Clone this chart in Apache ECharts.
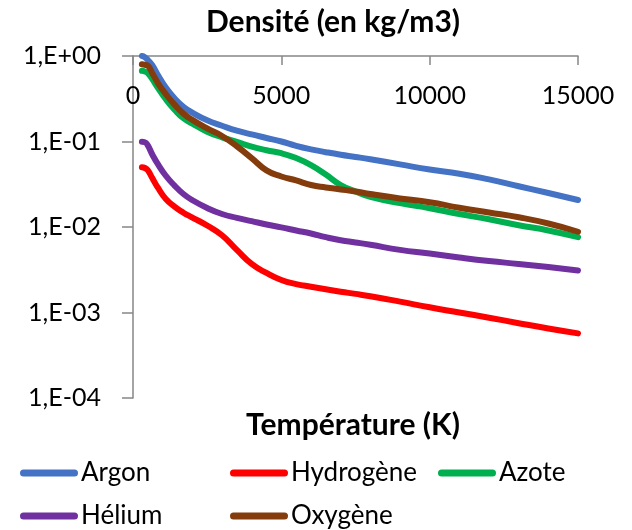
<!DOCTYPE html>
<html>
<head>
<meta charset="utf-8">
<script src="https://cdn.jsdelivr.net/npm/echarts@6/dist/echarts.min.js"></script>
<style>
  html, body {margin: 0; padding: 0; background: #fff;}
  #chart {width: 632px; height: 530px;}
</style>
</head>
<body>
<div id="chart"></div>
<script>
  'use strict';

  /*températures (K) communes à toutes les courbes*/
  var temperatures = [300, 400, 500, 650, 850, 1100, 1400, 1700, 2000, 2500, 3000, 3500, 4000, 4500,
    5000, 5500, 6000, 6500, 7000, 7500, 8000, 9000, 10000, 11000, 12000, 13000, 14000, 15000];

  /*densités (kg/m3)*/
  var argon = [1.0, 0.97, 0.9, 0.78, 0.59, 0.43, 0.32, 0.255, 0.218, 0.177, 0.153, 0.134, 0.121, 0.11,
    0.10, 0.089, 0.081, 0.075, 0.07, 0.066, 0.062, 0.054, 0.047, 0.042, 0.036, 0.030, 0.025, 0.0207];
  var hydrogene = [0.05, 0.049, 0.046, 0.0373, 0.0284, 0.0214, 0.0173, 0.0147, 0.0129, 0.0104, 0.008, 0.0054, 0.0037, 0.0029,
    0.0024, 0.00215, 0.002, 0.00187, 0.00175, 0.00165, 0.00155, 0.00134, 0.00115, 0.001, 0.00087, 0.00075, 0.00065, 0.00057];
  var azote = [0.67, 0.66, 0.63, 0.537, 0.418, 0.314, 0.236, 0.187, 0.162, 0.13, 0.112, 0.099, 0.087, 0.079,
    0.073, 0.064, 0.053, 0.041, 0.031, 0.026, 0.0226, 0.019, 0.0166, 0.0142, 0.0123, 0.0105, 0.0091, 0.0076];
  var helium = [0.099, 0.098, 0.09, 0.0705, 0.0535, 0.04, 0.0305, 0.0243, 0.0206, 0.0167, 0.0142, 0.0128, 0.0117, 0.0107,
    0.0099, 0.0091, 0.0084, 0.0076, 0.0070, 0.0066, 0.0062, 0.0054, 0.0049, 0.0044, 0.0040, 0.0037, 0.0034, 0.0031];
  var oxygene = [0.80, 0.79, 0.77, 0.63, 0.476, 0.36, 0.27, 0.212, 0.179, 0.142, 0.116, 0.088, 0.064, 0.046,
    0.039, 0.035, 0.031, 0.029, 0.0275, 0.026, 0.0243, 0.0216, 0.0195, 0.0168, 0.0148, 0.013, 0.011, 0.0088];

  var seriesNames = ['Argon', 'Hydrogène', 'Azote', 'Hélium', 'Oxygène'];
  var seriesValues = [argon, hydrogene, azote, helium, oxygene];
  var seriesColors = ['#4472C4', '#FF0000', '#00B050', '#7030A0', '#843C0C'];

  var yTickLabels = ['1,E-04', '1,E-03', '1,E-02', '1,E-01', '1,E+00'];
  var xTickLabels = ['0', '5000', '10000', '15000'];

  var font = 'Lato, "Open Sans", sans-serif';
  var axisGrey = '#868686';

  var pairs = function (values){
    return temperatures.map(function (t, i){
      return [t, values[i]];
    });
  };

  /*position des légendes (2 lignes, 3 colonnes)*/
  var legendPos = [[20, 460], [230, 460], [438, 460], [20, 503], [230, 503]];
  var legendIcon = 'path://M3.5,0 H54.5 A3.5,3.5 0 0 1 54.5,7 H3.5 A3.5,3.5 0 0 1 3.5,0 Z';

  var titleStyle = {
    fontFamily: font,
    fontSize: 30,
    fontWeight: 'bold',
    fill: '#000',
    align: 'center',
    verticalAlign: 'middle'
  };

  var myChart = echarts.init(document.getElementById('chart'), null, {renderer: 'canvas'});
  var option = {
    animation: false,
    backgroundColor: '#fff',
    grid: {
      left: 133,
      right: 54,
      top: 56,
      bottom: 132
    },
    graphic: [
      {
        type: 'text',
        x: 333,
        y: 22,
        style: echarts.util.extend({text: 'Densité (en kg/m3)'}, titleStyle)
      },
      {
        type: 'text',
        x: 353,
        y: 425,
        style: echarts.util.extend({text: 'Température (K)'}, titleStyle)
      }
    ],
    legend: seriesNames.map(function (name, i){
      return {
        data: [name],
        left: legendPos[i][0],
        top: legendPos[i][1],
        padding: 0,
        itemGap: 0,
        itemWidth: 58,
        itemHeight: 7,
        icon: legendIcon,
        textStyle: {
          fontFamily: font,
          fontSize: 26,
          color: '#000',
          padding: [0, 0, 0, -2]
        }
      };
    }),
    xAxis: {
      type: 'value',
      position: 'top',
      min: 0,
      max: 15000,
      interval: 5000,
      axisLine: {
        show: true,
        onZero: false,
        lineStyle: {color: axisGrey, width: 1.5}
      },
      axisTick: {
        show: true,
        inside: true,
        length: 9,
        lineStyle: {color: axisGrey, width: 1.5}
      },
      axisLabel: {
        inside: true,
        margin: 27,
        fontFamily: font,
        fontSize: 25,
        color: '#000',
        formatter: function (v){
          return xTickLabels[Math.round(v / 5000)];
        }
      },
      splitLine: {show: false}
    },
    yAxis: {
      type: 'log',
      logBase: 10,
      min: 0.0001,
      max: 1,
      axisLine: {
        show: true,
        lineStyle: {color: axisGrey, width: 1.5}
      },
      axisTick: {
        show: true,
        length: 11,
        lineStyle: {color: axisGrey, width: 1.5}
      },
      minorTick: {show: false},
      axisLabel: {
        margin: 32,
        fontFamily: font,
        fontSize: 25,
        color: '#000',
        formatter: function (v){
          var e = Math.round(Math.log(v) / Math.LN10);
          return yTickLabels[e + 4];
        }
      },
      splitLine: {show: false}
    },
    series: seriesNames.map(function (name, i){
      return {
        name: name,
        type: 'line',
        data: pairs(seriesValues[i]),
        symbol: 'none',
        smooth: 0.5,
        color: seriesColors[i],
        lineStyle: {
          width: 6,
          cap: 'round',
          join: 'round'
        }
      };
    })
  };

  myChart.setOption(option);
</script>
</body>
</html>
